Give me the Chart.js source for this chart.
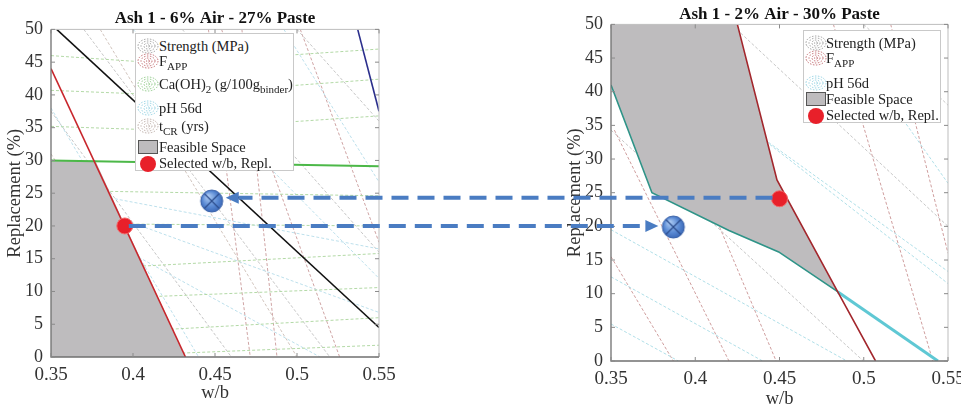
<!DOCTYPE html>
<html>
<head>
<meta charset="utf-8">
<script src="https://cdn.jsdelivr.net/npm/chart.js@4.4.1/dist/chart.umd.min.js"></script>
<style>
    body { margin: 0; background: #fff; width: 961px; height: 406px; overflow: hidden; position: relative;
           font-family: "Liberation Serif", "Times New Roman", serif; color: #222; }
    .wrap { position: absolute; top: 0; }
    #leftWrap { left: 0; width: 430px; height: 406px; }
    #rightWrap { left: 555px; width: 449px; height: 410px; }
    #arrows { position: absolute; left: 0; top: 0; pointer-events: none; }
    .legend { position: absolute; background: #fff; border: 1px solid #c9c9c9; font-size: 14.5px; }
    .legend .row { position: absolute; white-space: nowrap; line-height: 16px; }
    .legend canvas { position: absolute; }
    .legend sub { font-size: 11px; vertical-align: -4px; line-height: 0; }
</style>
</head>
<body>
<div class="wrap" id="leftWrap"><canvas id="leftChart"></canvas></div>
<div class="wrap" id="rightWrap"><canvas id="rightChart"></canvas></div>
<canvas id="arrows" width="961" height="406"></canvas>

<div class="legend" id="leftLegend" style="left:135px; top:33px; width:157px; height:136px;"></div>
<div class="legend" id="rightLegend" style="left:803px; top:30px; width:136px; height:91px;"></div>

<script>
// axes
const xTicks = [0.35, 0.4, 0.45, 0.5, 0.55];
const yTicks = [0, 5, 10, 15, 20, 25, 30, 35, 40, 45, 50];

// Ash 1 - 6% Air - 27% Paste
const leftFeasible = [[0.35, 0], [0.35, 30], [0.377, 30], [0.432, 0]];
const leftFappLimit = [[0.35, 44], [0.432, 0]];
const leftCaLimit = [[0.35, 30], [0.55, 29.1]];
const leftStrengthLimit = [[0.3535, 50], [0.55, 4.5]];
const leftPhLimit = [[0.537, 50], [0.55, 37.5]];
const leftSelected = [0.395, 20];
const leftAlternative = [0.448, 23.8];
const leftStrengthLines = [
    [[0.35, 37.5], [0.46, 0]], [[0.37, 50], [0.52, 0]],
    [[0.43, 50], [0.55, 16]], [[0.50, 50], [0.55, 36]]
];
const leftFappLines = [
    [[0.446, 50], [0.4715, 0]], [[0.4664, 50], [0.4878, 0]],
    [[0.454, 50], [0.526, 0]], [[0.502, 50], [0.55, 17.5]]
];
const leftCaLines = [
    [[0.35, 46], [0.42, 44.8], [0.55, 47]], [[0.35, 40.7], [0.42, 40], [0.55, 42.4]],
    [[0.35, 35.2], [0.42, 34.6], [0.55, 36.8]], [[0.38, 25.3], [0.55, 24.6]],
    [[0.39, 20.3], [0.55, 20]], [[0.40, 13.8], [0.55, 15.8]],
    [[0.41, 9.2], [0.55, 10.6]], [[0.42, 4.2], [0.55, 6]], [[0.43, 0.6], [0.55, 1.8]]
];
const leftPhLines = [
    [[0.35, 25], [0.55, 6.8]], [[0.35, 22.6], [0.514, 0]], [[0.35, 26], [0.55, 16.5]],
    [[0.492, 50], [0.55, 26.7]], [[0.35, 38], [0.44, 0]], [[0.40, 50], [0.55, 12]]
];
const leftTcrLines = [
    [[0.38, 50], [0.50, 0]], [[0.35, 31], [0.43, 0]]
];

// Ash 1 - 2% Air - 30% Paste
const rightFeasible = [[0.35, 50], [0.425, 50], [0.4485, 26.9], [0.4845, 10.3],
    [0.4495, 16.2], [0.42, 19.4], [0.3743, 25], [0.35, 41]];
const rightFappLimit = [[0.425, 50], [0.4485, 26.9], [0.4845, 10.3], [0.507, 0]];
const rightPhLimit = [[0.35, 41], [0.3743, 25], [0.42, 19.4], [0.4495, 16.2], [0.4845, 10.3]];
const rightPhLimitTail = [[0.4845, 10.3], [0.544, 0]];
const rightSelected = [0.45, 24.1];
const rightAlternative = [0.387, 19.9];
const rightStrengthLines = [
    [[0.427, 48.7], [0.55, 20]], [[0.35, 34.3], [0.4998, 0]], [[0.50, 50], [0.55, 38]]
];
const rightFappLines = [
    [[0.352, 34.3], [0.42, 0]], [[0.35, 15.5], [0.387, 0]], [[0.3637, 50], [0.448, 0]],
    [[0.482, 50], [0.541, 0]], [[0.516, 50], [0.55, 16]]
];
const rightPhLines = [
    [[0.35, 19.5], [0.49, 0]], [[0.35, 12.5], [0.44, 0]], [[0.35, 5.5], [0.39, 0]],
    [[0.353, 50], [0.55, 11.5]], [[0.40, 40.3], [0.55, 13.3]], [[0.5235, 35.8], [0.55, 26.4]]
];

const pts = arr => arr.map(p => ({ x: p[0], y: p[1] }));
function segs(list) {
    const out = [];
    list.forEach(s => {
        s.forEach(p => out.push({ x: p[0], y: p[1] }));
        out.push({ x: s[s.length - 1][0], y: null });
    });
    return out;
}

// blue "x" marker for the alternative point
function makeMarker() {
    const c = document.createElement('canvas');
    c.width = 26; c.height = 26;
    const g = c.getContext('2d');
    const grad = g.createRadialGradient(9, 8, 1, 13, 13, 12);
    grad.addColorStop(0, '#a9c8f2');
    grad.addColorStop(0.6, '#5a8ad4');
    grad.addColorStop(1, '#3763b3');
    g.beginPath(); g.arc(13, 13, 11, 0, Math.PI * 2);
    g.fillStyle = grad; g.fill();
    g.strokeStyle = '#3a62a8'; g.lineWidth = 1; g.stroke();
    g.beginPath();
    g.moveTo(5.5, 5.5); g.lineTo(20.5, 20.5);
    g.moveTo(20.5, 5.5); g.lineTo(5.5, 20.5);
    g.strokeStyle = '#2c4c8c'; g.lineWidth = 1.2; g.stroke();
    return c;
}
const marker = makeMarker();

function contour(data, color) {
    return { data: segs(data), borderColor: color, borderWidth: 1, borderDash: [3, 2],
             pointRadius: 0, fill: false, order: 4, spanGaps: false };
}
function solid(data, color, width) {
    return { data: pts(data), borderColor: color, borderWidth: width, pointRadius: 0, fill: false, order: 2 };
}
function area(data) {
    return { data: pts(data), borderWidth: 0, pointRadius: 0, backgroundColor: '#bebcbe', fill: 'shape', order: 3 };
}
function selected(p) {
    return { data: [{ x: p[0], y: p[1] }], showLine: false, pointRadius: 8, pointHoverRadius: 8,
             backgroundColor: '#e8202a', borderColor: '#f26a6a', borderWidth: 1, order: 0 };
}
function alternative(p) {
    return { data: [{ x: p[0], y: p[1] }], showLine: false, pointStyle: marker, order: 0 };
}

// axis frame with inward ticks on all four sides
const framePlugin = {
    id: 'frame',
    afterDatasetsDraw(chart) {
        const { ctx, chartArea: a, scales } = chart;
        ctx.save();
        ctx.lineWidth = 1;
        ctx.strokeStyle = '#bdbdbd';
        ctx.beginPath();
        ctx.moveTo(a.left, a.top); ctx.lineTo(a.right, a.top); ctx.lineTo(a.right, a.bottom);
        ctx.stroke();
        ctx.lineWidth = 1.3;
        ctx.strokeStyle = '#707070';
        ctx.beginPath();
        ctx.moveTo(a.left, a.top); ctx.lineTo(a.left, a.bottom); ctx.lineTo(a.right, a.bottom);
        ctx.stroke();
        ctx.lineWidth = 1;
        ctx.beginPath();
        xTicks.forEach(v => {
            const x = scales.x.getPixelForValue(v);
            ctx.moveTo(x, a.bottom); ctx.lineTo(x, a.bottom - 4);
            ctx.moveTo(x, a.top); ctx.lineTo(x, a.top + 4);
        });
        yTicks.forEach(v => {
            const y = scales.y.getPixelForValue(v);
            ctx.moveTo(a.left, y); ctx.lineTo(a.left + 4, y);
            ctx.moveTo(a.right, y); ctx.lineTo(a.right - 4, y);
        });
        ctx.strokeStyle = '#8a8a8a';
        ctx.stroke();
        ctx.restore();
    }
};

// sideW: same width on both sides so the title sits centred over the plot area
function makeOptions(title, titlePad, sideW, xHeight, xTitlePad, yTitlePad) {
    return {
        responsive: false,
        animation: false,
        layout: { padding: 0 },
        plugins: {
            legend: { display: false },
            tooltip: { enabled: false },
            title: {
                display: true, text: title, color: '#111',
                font: { family: 'Liberation Serif', size: 17, weight: 'bold', lineHeight: 1.2 },
                padding: titlePad
            }
        },
        scales: {
            x: {
                type: 'linear', min: 0.35, max: 0.55,
                grid: { display: false, drawTicks: false }, border: { display: false },
                afterBuildTicks: s => { s.ticks = xTicks.map(v => ({ value: v })); },
                afterFit: s => { s.height = xHeight; s.paddingLeft = 0; s.paddingRight = 0; },
                ticks: { font: { family: 'Liberation Serif', size: 19 }, color: '#333', padding: 7, maxRotation: 0,
                         callback: v => String(Number(v.toFixed(2))) },
                title: { display: true, text: 'w/b', color: '#333',
                         font: { family: 'Liberation Serif', size: 18.5, lineHeight: 1 },
                         padding: { top: 0, bottom: xTitlePad } }
            },
            y: {
                type: 'linear', min: 0, max: 50,
                grid: { display: false, drawTicks: false }, border: { display: false },
                afterBuildTicks: s => { s.ticks = yTicks.map(v => ({ value: v })); },
                afterFit: s => { s.width = sideW; s.paddingTop = 0; s.paddingBottom = 0; },
                ticks: { font: { family: 'Liberation Serif', size: 18 }, color: '#333', padding: 8 },
                title: { display: true, text: 'Replacement (%)', color: '#333',
                         font: { family: 'Liberation Serif', size: 18.5, lineHeight: 1 },
                         padding: { top: yTitlePad, bottom: 0 } }
            },
            yPad: {
                type: 'linear', position: 'right', min: 0, max: 50,
                grid: { display: false, drawTicks: false }, border: { display: false },
                ticks: { display: false },
                afterFit: s => { s.width = sideW; s.paddingTop = 0; s.paddingBottom = 0; }
            }
        }
    };
}

function sizeCanvas(id, w, h) {
    const c = document.getElementById(id);
    c.width = w; c.height = h;
    c.style.width = w + 'px'; c.style.height = h + 'px';
    return c;
}

const leftChart = new Chart(sizeCanvas('leftChart', 430, 406), {
    type: 'line',
    data: {
        datasets: [
            alternative(leftAlternative),
            selected(leftSelected),
            solid(leftFappLimit, '#c8262c', 1.6),
            solid(leftCaLimit, '#4cb848', 2),
            solid(leftStrengthLimit, '#111111', 1.6),
            solid(leftPhLimit, '#2b2f8c', 1.6),
            area(leftFeasible),
            contour(leftCaLines, '#b3d9a6'),
            contour(leftPhLines, '#bde0ec'),
            contour(leftStrengthLines, '#c6c6c6'),
            contour(leftTcrLines, '#d2c5be'),
            contour(leftFappLines, '#cfa4a4')
        ]
    },
    options: makeOptions('Ash 1 - 6% Air - 27% Paste', { top: 8, bottom: 1 }, 51, 49, 4, 6),
    plugins: [framePlugin]
});

const rightChart = new Chart(sizeCanvas('rightChart', 449, 410), {
    type: 'line',
    data: {
        datasets: [
            alternative(rightAlternative),
            selected(rightSelected),
            solid(rightFappLimit, '#a3272d', 1.6),
            solid(rightPhLimit, '#2f9488', 1.6),
            solid(rightPhLimitTail, '#5fc8d4', 3),
            area(rightFeasible),
            contour(rightPhLines, '#b0dfe8'),
            contour(rightStrengthLines, '#c6c6c6'),
            contour(rightFappLines, '#cf9e9e')
        ]
    },
    options: makeOptions('Ash 1 - 2% Air - 30% Paste', { top: 4, bottom: 0 }, 56, 49, 2, 11),
    plugins: [framePlugin]
});

// dashed arrows linking the two panels
function drawArrows() {
    const cv = document.getElementById('arrows');
    const ctx = cv.getContext('2d');
    const lOff = 0, rOff = 555;
    const lx = leftChart.scales.x, ly = leftChart.scales.y;
    const rx = rightChart.scales.x, ry = rightChart.scales.y;
    const arrows = [
        { x1: rOff + rx.getPixelForValue(rightSelected[0]) - 7, y: ry.getPixelForValue(rightSelected[1]) - 1,
          x2: lOff + lx.getPixelForValue(leftAlternative[0]) + 14 },
        { x1: lOff + lx.getPixelForValue(leftSelected[0]) + 4, y: ly.getPixelForValue(leftSelected[1]),
          x2: rOff + rx.getPixelForValue(rightAlternative[0]) - 15 }
    ];
    ctx.strokeStyle = '#4a7cc2';
    ctx.fillStyle = '#4a7cc2';
    ctx.lineWidth = 4;
    arrows.forEach(a => {
        const dir = Math.sign(a.x2 - a.x1);
        const head = 13;
        ctx.setLineDash([17, 9]);
        ctx.beginPath();
        ctx.moveTo(a.x1, a.y);
        ctx.lineTo(a.x2 - dir * head, a.y);
        ctx.stroke();
        ctx.setLineDash([]);
        ctx.beginPath();
        ctx.moveTo(a.x2, a.y);
        ctx.lineTo(a.x2 - dir * head, a.y - 6);
        ctx.lineTo(a.x2 - dir * head, a.y + 6);
        ctx.closePath();
        ctx.fill();
    });
}
drawArrows();

// legends
function contourIcon(color) {
    const c = document.createElement('canvas');
    c.width = 22; c.height = 16;
    const g = c.getContext('2d');
    g.strokeStyle = color; g.lineWidth = 1; g.setLineDash([1.5, 1.5]);
    [[10, 7], [7, 5], [4, 3], [1.5, 1.2]].forEach(r => {
        g.beginPath(); g.ellipse(11, 8, r[0], r[1], 0, 0, Math.PI * 2); g.stroke();
    });
    return c;
}
function boxIcon() {
    const c = document.createElement('canvas');
    c.width = 22; c.height = 16;
    const g = c.getContext('2d');
    g.fillStyle = '#bebcbe'; g.fillRect(1, 1, 20, 14);
    g.strokeStyle = '#555'; g.lineWidth = 1; g.strokeRect(1.5, 1.5, 19, 13);
    return c;
}
function dotIcon() {
    const c = document.createElement('canvas');
    c.width = 22; c.height = 18;
    const g = c.getContext('2d');
    g.beginPath(); g.arc(11, 9, 8, 0, Math.PI * 2);
    g.fillStyle = '#e8202a'; g.fill();
    return c;
}

const leftEntries = [
    { html: 'Strength (MPa)', icon: () => contourIcon('#9a9a9a'), top: 4 },
    { html: 'F<sub>APP</sub>', icon: () => contourIcon('#c0696e'), top: 19 },
    { html: 'Ca(OH)<sub>2</sub> (g/100g<sub>binder</sub>)', icon: () => contourIcon('#8cc784'), top: 42 },
    { html: 'pH 56d', icon: () => contourIcon('#8fcfe0'), top: 66 },
    { html: 't<sub>CR</sub> (yrs)', icon: () => contourIcon('#b9aaa4'), top: 84 },
    { html: 'Feasible Space', icon: boxIcon, top: 105 },
    { html: 'Selected w/b, Repl.', icon: dotIcon, top: 121 }
];
const rightEntries = [
    { html: 'Strength (MPa)', icon: () => contourIcon('#9a9a9a'), top: 4 },
    { html: 'F<sub>APP</sub>', icon: () => contourIcon('#c0696e'), top: 19 },
    { html: 'pH 56d', icon: () => contourIcon('#8fcfe0'), top: 44 },
    { html: 'Feasible Space', icon: boxIcon, top: 60 },
    { html: 'Selected w/b, Repl.', icon: dotIcon, top: 76 }
];

function buildLegend(id, entries, textLeft) {
    const box = document.getElementById(id);
    entries.forEach(e => {
        const icon = e.icon();
        icon.style.left = '1px';
        icon.style.top = e.top + 'px';
        box.appendChild(icon);
        const row = document.createElement('div');
        row.className = 'row';
        row.style.left = textLeft + 'px';
        row.style.top = e.top + 'px';
        row.innerHTML = e.html;
        box.appendChild(row);
    });
}
buildLegend('leftLegend', leftEntries, 23);
buildLegend('rightLegend', rightEntries, 22);
</script>
</body>
</html>
